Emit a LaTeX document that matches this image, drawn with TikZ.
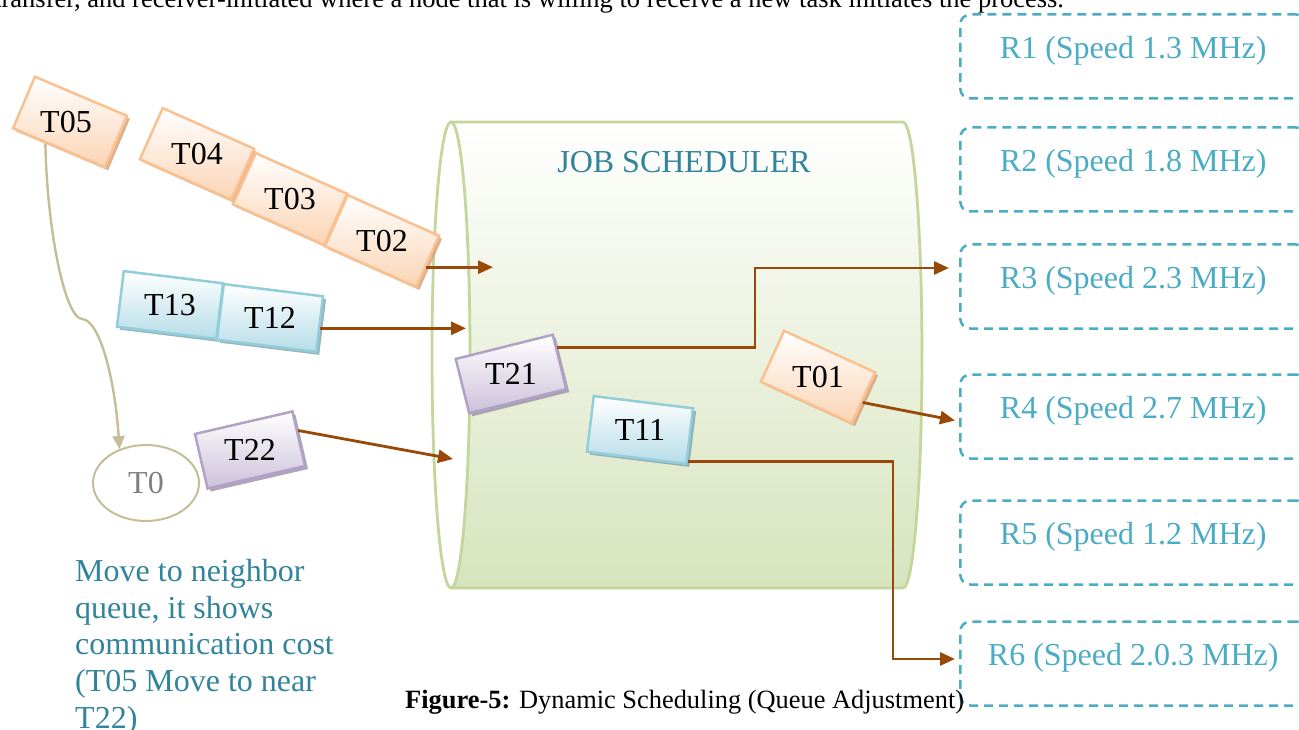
\documentclass[tikz,border=0pt]{standalone}
\usepackage{fontspec}
\setmainfont{Liberation Serif}
\usetikzlibrary{arrows.meta,shapes.geometric,shadows,calc}
\definecolor{orB}{HTML}{FAC090}
\definecolor{orF}{HTML}{FBD4B4}
\definecolor{orS}{HTML}{D39F77}
\definecolor{blB}{HTML}{92CDDC}
\definecolor{blF}{HTML}{B6DDE8}
\definecolor{blS}{HTML}{7FA2AB}
\definecolor{puB}{HTML}{B2A1C7}
\definecolor{puF}{HTML}{CCC1DA}
\definecolor{puS}{HTML}{9A8FA8}
\definecolor{brn}{HTML}{984807}
\definecolor{tealc}{HTML}{31849B}
\definecolor{rcol}{HTML}{4BACC6}
\definecolor{cylB}{HTML}{C3D69B}
\definecolor{cylF}{HTML}{D7E4BD}
\definecolor{tanc}{HTML}{C4BD97}
\definecolor{gtx}{HTML}{7F7F7F}
\tikzset{
  big/.style={font=\fontsize{32}{36.7}\selectfont},
  tbox/.style={line width=2.5pt, minimum width=100pt, minimum height=56pt, inner sep=0pt},
  obox/.style={tbox, draw=orB, top color=white, bottom color=orF,
    drop shadow={shadow xshift=3pt, shadow yshift=-3pt, fill=orS, opacity=0.8}},
  bbox/.style={tbox, draw=blB, top color=white, bottom color=blF,
    drop shadow={shadow xshift=3pt, shadow yshift=-3pt, fill=blS, opacity=0.8}},
  pbox/.style={tbox, draw=puB, top color=white, bottom color=puF,
    drop shadow={shadow xshift=3pt, shadow yshift=-3pt, fill=puS, opacity=0.8}},
  tlab/.style={big, text=black, inner sep=0pt},
  rbox/.style={draw=rcol, line width=2.5pt, dash pattern=on 9pt off 6pt, rounded corners=10pt,
    minimum width=346pt, minimum height=84pt, anchor=west, inner sep=0pt, big, text=rcol},
  flow/.style={draw=brn, line width=2.8pt, -{Triangle[length=15pt,width=13pt]}},
  cylline/.style={draw=cylB, line width=2.8pt},
}
\newcommand{\rtxt}[1]{\raisebox{6pt}[\height][\depth]{#1}}
\begin{document}
\begin{tikzpicture}[x=1pt,y=-1pt]
\useasboundingbox (0,0) rectangle (1299,730);
\clip (0,0) rectangle (1299,730);

% top text (cut off)
\node[anchor=base west, inner sep=0pt, font=\fontsize{26.5}{30}\selectfont] (toptext) at (-6,8)
  {transfer, and receiver-initiated where a node that is willing to receive a new task initiates the process.};

% cylinder
\path[top color=white, bottom color=cylF] (451,122) -- (903,122)
  arc[start angle=-90, end angle=90, x radius=19, y radius=233] -- (451,588) -- cycle;
\path[cylline] (451,122) -- (903,122)
  arc[start angle=-90, end angle=90, x radius=19, y radius=233] -- (451,588);
\path[cylline, fill=white] (451,355) ellipse [x radius=19, y radius=233];
\node[big, text=tealc] (js) at (684,162) {JOB SCHEDULER};

% resources
\node[rbox] (r1) at (959,56.5) {\rtxt{R1 (Speed 1.3 MHz)}};
\node[rbox] (r2) at (959,169.5) {\rtxt{R2 (Speed 1.8 MHz)}};
\node[rbox] (r3) at (959,286.5) {\rtxt{R3 (Speed 2.3 MHz)}};
\node[rbox] (r4) at (959,416.5) {\rtxt{R4 (Speed 2.7 MHz)}};
\node[rbox] (r5) at (959,542.5) {\rtxt{R5 (Speed 1.2 MHz)}};
\node[rbox] (r6) at (959,663.5) {\rtxt{R6 (Speed 2.0.3 MHz)}};

% task boxes
\node[obox, rotate=-23] (t05) at (70,122) {};
\node[obox, rotate=-24] (t04) at (197,154) {};
\node[obox, rotate=-24] (t03) at (290,199) {};
\node[obox, rotate=-24] (t02) at (382,241) {};
\node[bbox, rotate=-7] (t13) at (170,305) {};
\node[bbox, rotate=-7] (t12) at (270,318) {};
\node[pbox, rotate=14] (t21) at (511,374) {};
\node[bbox, rotate=-7] (t11) at (640,430) {};
\node[obox, rotate=-24.5] (t01) at (818,377) {};
\node[pbox, rotate=13] (t22) at (250,450) {};

\node[tlab] (l05) at ([xshift=-4pt]t05.center) {T05};
\node[tlab] (l04) at (t04.center) {T04};
\node[tlab] (l03) at (t03.center) {T03};
\node[tlab] (l02) at (t02.center) {T02};
\node[tlab] (l13) at (t13.center) {T13};
\node[tlab] (l12) at (t12.center) {T12};
\node[tlab] (l21) at (t21.center) {T21};
\node[tlab] (l11) at (t11.center) {T11};
\node[tlab] (l01) at (t01.center) {T01};
\node[tlab] (l22) at (t22.center) {T22};

% T0
\node[ellipse, draw=tanc, line width=2pt, minimum width=106pt, minimum height=76pt,
  inner sep=0pt, big, text=gtx] (t0) at (146,483) {T0};

% annotation
\node[big, text=tealc, anchor=north west, align=left, inner sep=0pt] (note) at (75,559)
  {Move to neighbor\\queue, it shows\\communication cost\\(T05 Move to near\\T22)};

% caption
\node[anchor=base west, inner sep=0pt, font=\fontsize{26.4}{30}\selectfont] (cap) at (405,708)
  {\textbf{Figure-5:} Dynamic Scheduling (Queue Adjustment)};

% connector coordinates
\coordinate (s02) at ($(t02.north east)!0.6!(t02.south east)$);
\coordinate (s12) at ($(t12.north east)!0.57!(t12.south east)$);
\coordinate (s22) at ($(t22.north east)!0.36!(t22.south east)$);
\coordinate (s21) at ($(t21.north east)!0.25!(t21.south east)$);
\coordinate (s01) at ($(t01.north east)!0.58!(t01.south east)$);
\coordinate (s11) at ($(t11.north east)!0.93!(t11.south east)$);
\coordinate (s05) at ($(t05.south west)!0.36!(t05.south east)$);
\coordinate (in1) at (493,268);
\coordinate (in2) at (466,328);
\coordinate (in3) at (453,459);
\coordinate (bend1) at (755,268);
\coordinate (bend2) at (893,659);
\coordinate (mid05) at (82,319);

\draw[flow] (s02) -- (s02 -| in1);
\draw[flow] (s12) -- (s12 -| in2);
\draw[flow] (s22) -- (in3);
\draw[flow] (s21) -| (bend1) -- ([xshift=-10pt]r3.west |- bend1);
\draw[flow] (s01) -- ([xshift=-4pt,yshift=-4pt]r4.west);
\draw[flow] (s11) -| (bend2) -- ([xshift=-4pt]r6.west |- bend2);
\draw[draw=tanc, line width=2.4pt, -{Triangle[length=13pt,width=12pt]}]
  (s05) .. controls (47,230) and (65,318) .. (mid05)
  .. controls (100,320) and (115,380) .. (t0.128);
\end{tikzpicture}
\end{document}
